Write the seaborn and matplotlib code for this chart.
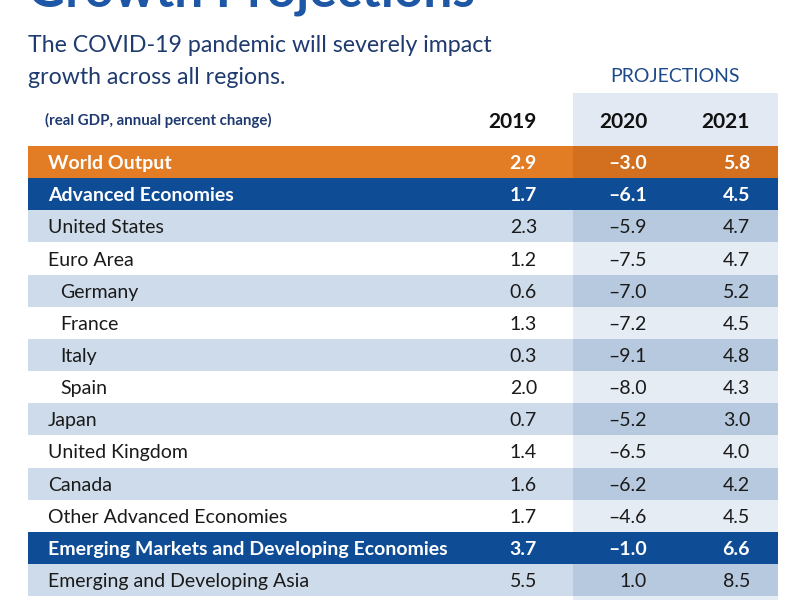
import matplotlib
matplotlib.use("Agg")
import matplotlib.pyplot as plt
import seaborn as sns
import numpy as np

# table data (real GDP, annual percent change)
names = ["World Output", "Advanced Economies", "United States", "Euro Area",
         "Germany", "France", "Italy", "Spain", "Japan", "United Kingdom",
         "Canada", "Other Advanced Economies",
         "Emerging Markets and Developing Economies",
         "Emerging and Developing Asia"]
v2019 = [2.9, 1.7, 2.3, 1.2, 0.6, 1.3, 0.3, 2.0, 0.7, 1.4, 1.6, 1.7, 3.7, 5.5]
v2020 = [-3.0, -6.1, -5.9, -7.5, -7.0, -7.2, -9.1, -8.0, -5.2, -6.5, -6.2, -4.6, -1.0, 1.0]
v2021 = [5.8, 4.5, 4.7, 4.7, 5.2, 4.5, 4.8, 4.3, 3.0, 4.0, 4.2, 4.5, 6.6, 8.5]
row_kind = ["world", "group", "light", "white", "light", "white", "light",
            "white", "light", "white", "light", "white", "group", "light"]
indented = [0, 0, 0, 0, 1, 1, 1, 1, 0, 0, 0, 0, 0, 0]
years = ["2019", "2020", "2021"]

# styling
base_col = {"world": "#e27c25", "group": "#0e4c96", "light": "#cedbea", "white": "#ffffff"}
proj_col = {"world": "#d37020", "group": "#0e4c96", "light": "#b7c9de", "white": "#e5ecf4"}
txt_col = {"world": "white", "group": "white", "light": "#1a1a1a", "white": "#1a1a1a"}
bold_kind = {"world", "group"}

sns.set_theme(style="white")
plt.rcParams["font.family"] = ["Lato", "DejaVu Sans"]

fig = plt.figure(figsize=(8, 6), dpi=100)
ax = fig.add_axes([0, 0, 1, 1])
ax.set_xlim(0, 800)
ax.set_ylim(600, 0)
ax.axis("off")

# layout in pixels
left, right, proj_left = 28, 778, 573
top, row_h = 146, 32.15
n = len(names)
centers = top + row_h * (np.arange(n) + 0.5)

# header shading behind projection columns
ax.barh([119.5], [right - proj_left], left=proj_left, height=53,
        color="#e2e9f2", linewidth=0, zorder=0)
# faint shading continuing below the last row
ax.barh([top + row_h * n + 10], [right - proj_left], left=proj_left, height=20,
        color="#e5ecf4", linewidth=0, zorder=0)

ax.barh(centers, [right - left] * n, left=left, height=row_h,
        color=[base_col[k] for k in row_kind], linewidth=0, zorder=1)
ax.barh(centers, [right - proj_left] * n, left=proj_left, height=row_h,
        color=[proj_col[k] for k in row_kind], linewidth=0, zorder=2)

def fmt(v):
    return f"{v:.1f}".replace("-", "\u2013")

col_right = [537, 647, 750]
for i, (nm, a, b, c, k, ind) in enumerate(zip(names, v2019, v2020, v2021, row_kind, indented)):
    w = "bold" if k in bold_kind else "normal"
    ax.text(48 + 12 * ind, centers[i], nm, ha="left", va="center_baseline",
            fontsize=14, color=txt_col[k], fontweight=w, zorder=3)
    for x, v in zip(col_right, (a, b, c)):
        ax.text(x, centers[i], fmt(v), ha="right", va="center_baseline",
                fontsize=14, color=txt_col[k], fontweight=w, zorder=3)

# headers
for x, y in zip(col_right, years):
    ax.text(x, 120, y, ha="right", va="center_baseline", fontsize=15,
            fontweight="bold", color="#111111", zorder=3)
ax.text(45, 119, "(real GDP, annual percent change)", ha="left", va="center_baseline",
        fontsize=10.8, fontweight="bold", color="#1f3a70", zorder=3)
ax.text(675, 75, "PROJECTIONS", ha="center", va="center_baseline", fontsize=14,
        color="#1f4a8a", zorder=3)

# titles
ax.text(28, 6, "Growth Projections", ha="left", va="baseline", fontsize=37,
        fontweight="bold", color="#1d57a6", zorder=3)
ax.text(28, 44, "The COVID-19 pandemic will severely impact", ha="left",
        va="center_baseline", fontsize=16.7, color="#1f3a6e", zorder=3)
ax.text(28, 75, "growth across all regions.", ha="left",
        va="center_baseline", fontsize=16.7, color="#1f3a6e", zorder=3)

fig.savefig("out.png", dpi=100)
